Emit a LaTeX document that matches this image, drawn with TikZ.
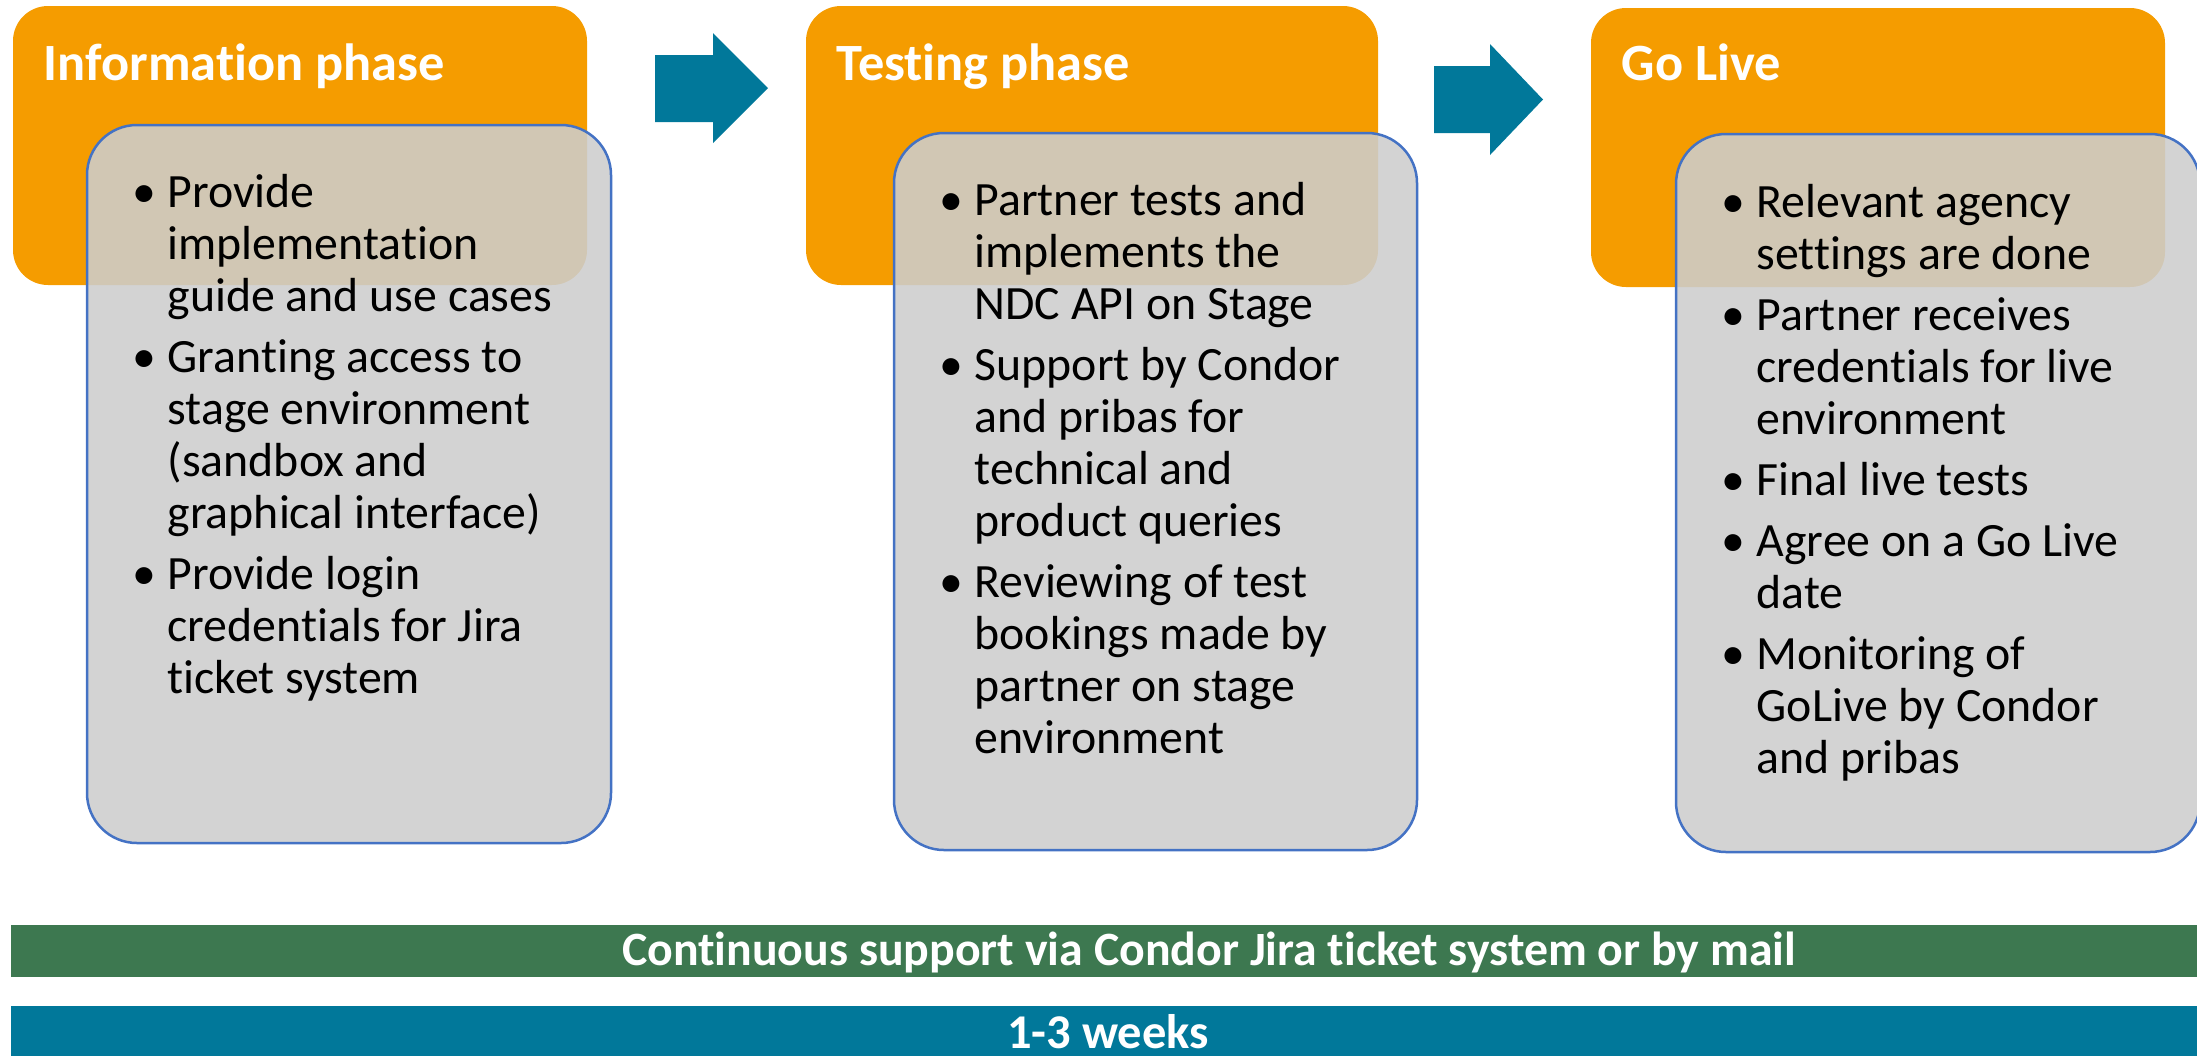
\documentclass[tikz,border=0pt]{standalone}
\usepackage{fontspec}
\setmainfont[Ligatures=NoCommon]{Carlito}
\usepackage{tikz}

\definecolor{phaseorange}{HTML}{F59C00}
\definecolor{cardgray}{HTML}{CDCDCD}
\definecolor{cardblue}{HTML}{4472C4}
\definecolor{flowteal}{HTML}{01789A}
\definecolor{supportgreen}{HTML}{3D7850}

\newcommand{\bitem}[1]{\par\hangindent=3.5mm\hangafter=1\noindent\makebox[3.5mm][l]{\textbullet}#1}

\tikzset{
  phase/.style={fill=phaseorange, rounded corners=3.5mm},
  card/.style={fill=cardgray, fill opacity=0.88, draw=cardblue, line width=0.25mm, rounded corners=5mm},
  phasetitle/.style={anchor=base west, inner sep=0pt, text=white, font=\bfseries\fontsize{14.9}{18}\selectfont},
  itemlist/.style={anchor=base west, inner sep=0pt, font=\fontsize{13.6}{14.8}\selectfont},
  bartext/.style={anchor=base, inner sep=0pt, text=white, font=\bfseries\fontsize{13.6}{16}\selectfont}
}

\begin{document}
\begin{tikzpicture}[x=0.1mm,y=-0.1mm]
\useasboundingbox (0,0) rectangle (2197,1055);

% orange phase headers
\fill[phase] (13,6) rectangle (587,285);
\fill[phase] (806,6) rectangle (1378,285);
\fill[phase] (1591,8) rectangle (2165,287);
\node[phasetitle] (infotitle) at (43,80) {Information phase};
\node[phasetitle] (testtitle) at (836,80) {Testing phase};
\node[phasetitle] (livetitle) at (1621,80) {Go Live};

% arrows between the phases
\fill[flowteal] (655,55) -- (713,55) -- (713,33) -- (768,88) -- (713,143) -- (713,122) -- (655,122) -- cycle;
\fill[flowteal] (1434,66) -- (1490,66) -- (1490,44) -- (1543,99.5) -- (1490,155) -- (1490,133) -- (1434,133) -- cycle;

% gray cards
\path[card] (87,125) rectangle (611,843);
\path[card] (894,133) rectangle (1417,850);
\path[card] (1676,134) rectangle (2200,852);

\node[itemlist] (infolist) at (132,207) {\begin{minipage}[t]{60mm}\setlength{\parskip}{0.9mm}%
\bitem{Provide\\implementation\\guide and use cases}
\bitem{Granting access to\\stage environment\\(sandbox and\\graphical interface)}
\bitem{Provide login\\credentials for Jira\\ticket system}
\end{minipage}};

\node[itemlist] (testlist) at (939,215) {\begin{minipage}[t]{60mm}\setlength{\parskip}{0.9mm}%
\bitem{Partner tests and\\implements the\\NDC API on Stage}
\bitem{Support by Condor\\and pribas for\\technical and\\product queries}
\bitem{Reviewing of test\\bookings made by\\partner on stage\\environment}
\end{minipage}};

\node[itemlist] (livelist) at (1721,217) {\begin{minipage}[t]{60mm}\setlength{\parskip}{0.9mm}%
\bitem{Relevant agency\\settings are done}
\bitem{Partner receives\\credentials for live\\environment}
\bitem{Final live tests}
\bitem{Agree on a Go Live\\date}
\bitem{Monitoring of\\GoLive by Condor\\and pribas}
\end{minipage}};

% bottom bars
\fill[supportgreen] (11,925) rectangle (2210,977);
\fill[flowteal] (11,1006) rectangle (2210,1070);
\node[bartext] (supporttext) at (1209,965) {Continuous support via Condor Jira ticket system or by mail};
\node[bartext, font=\bfseries\fontsize{13.8}{16}\selectfont] (weekstext) at (1108,1048) {1-3 weeks};
\end{tikzpicture}
\end{document}
